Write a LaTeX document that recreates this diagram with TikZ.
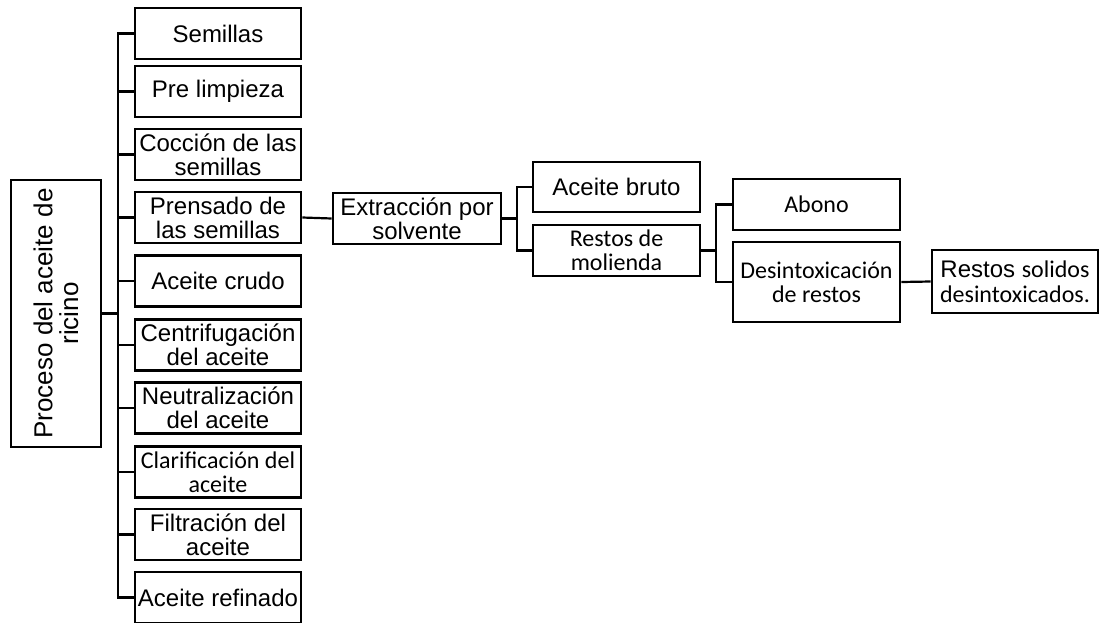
\documentclass[tikz,border=0pt]{standalone}
\usepackage{fontspec}
\setmainfont{Liberation Sans}
\newfontfamily\calfont{Carlito}
\begin{document}
\begin{tikzpicture}[x=0.5pt,y=-0.5pt,
  box/.style={draw,line width=1.3pt,inner sep=0pt,align=center,
    font=\fontsize{12}{12}\selectfont},
  lbox/.style={box,minimum width=83pt,minimum height=25.5pt},
  conn/.style={line width=1.1pt},
  cal/.style={font=\calfont\fontsize{12}{12}\selectfont}]
\useasboundingbox (0,0) rectangle (1099,622);
% root
\node[box,rotate=90,minimum width=133.5pt,minimum height=45pt,
  font=\fontsize{13}{12.8}\selectfont] (root) at (56,313.5) {Proceso del aceite de\\ricino};
% left column
\node[lbox] (sem) at (218,33.5) {Semillas};
\node[lbox] (pre) at (218,91.5) {Pre limpieza};
\node[lbox] (coc) at (218,154.5) {Cocción de las\\semillas};
\node[lbox] (pren) at (218,217.5) {Prensado de\\las semillas};
\node[lbox] (cru) at (218,281) {Aceite crudo};
\node[lbox] (cen) at (218,345) {Centrifugación\\del aceite};
\node[lbox] (neu) at (218,408) {Neutralización\\del aceite};
\node[lbox,cal] (cla) at (218,472) {Clarificación del\\aceite};
\node[lbox] (fil) at (218,534.5) {Filtración del\\aceite};
\node[lbox] (ref) at (218,597.5) {Aceite refinado};
\coordinate (spT) at (118,33.5);
\coordinate (spB) at (118,597.5);
\draw[conn] (sem.west) -- (spT) -- (spB) -- (ref.west);
\foreach \n in {pre,coc,pren,cru,cen,neu,cla,fil}
  \draw[conn] (\n.west) -- (\n.west -| spT);
\draw[line width=1.4pt] (root.south) -- (root.south -| spT);
% middle
\node[box,minimum width=84pt,minimum height=25.5pt] (ext) at (417,218.5) {Extracción por\\solvente};
\draw[conn] (pren.east) -- (ext.west);
\node[box,minimum width=83.5pt,minimum height=25pt] (bru) at (616.5,187) {Aceite bruto};
\node[box,cal,minimum width=83.5pt,minimum height=25.5pt] (mol) at (616.5,250.5) {Restos de\\molienda};
\coordinate (sp2) at (517,218.5);
\draw[line width=1.4pt] (ext.east) -- (sp2);
\draw[conn] (bru.west) -- (bru.west -| sp2) -- (mol.west -| sp2) -- (mol.west);
% right
\node[box,cal,minimum width=83.5pt,minimum height=25.5pt] (abo) at (816.5,204.5) {Abono};
\node[box,cal,minimum width=83.5pt,minimum height=40pt] (des) at (816.5,282) {Desintoxicación\\de restos};
\coordinate (sp3) at (716,250.5);
\draw[conn] (mol.east) -- (sp3);
\draw[conn] (abo.west) -- (abo.west -| sp3) -- (des.west -| sp3) -- (des.west);
\node[box,minimum width=83pt,minimum height=31.5pt,
  font=\fontsize{12}{12.5}\selectfont] (sol) at (1015,281.5) {Restos {\calfont solidos}\\{\calfont desintoxicados.}};
\draw[conn] (des.east) -- (sol.west);
\end{tikzpicture}
\end{document}
